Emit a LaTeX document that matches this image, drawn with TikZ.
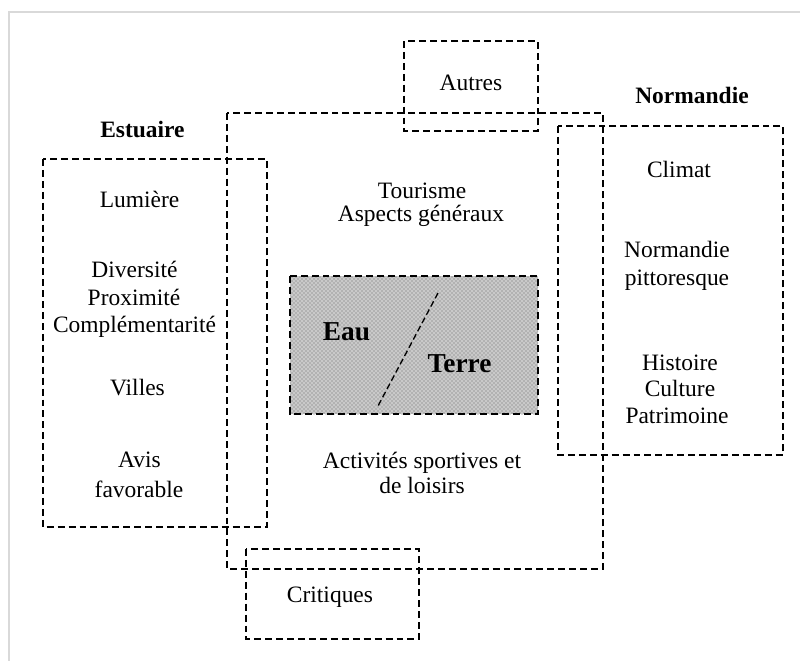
\documentclass[tikz,border=0pt]{standalone}
\usepackage{fontspec}
\setmainfont{Liberation Serif}
\usetikzlibrary{patterns}
\begin{document}
\begin{tikzpicture}[x=0.75pt,y=-0.75pt,
  txt/.style={anchor=base,inner sep=0pt,font=\fontsize{17.6}{21}\selectfont},
  btxt/.style={txt,font=\fontsize{17.6}{21}\selectfont\bfseries},
  bigtxt/.style={anchor=base,inner sep=0pt,font=\fontsize{20.5}{24}\selectfont\bfseries},
  dbox/.style={draw=black,line width=1.1pt,dash pattern=on 5.2pt off 3pt},
  frameline/.style={draw=gray!30,line width=1.2pt}]
\useasboundingbox (0,0) rectangle (800,661);
\fill[white] (0,0) rectangle (800,661);
% outer frame
\draw[frameline] (800,12) -- (9,12) -- (9,661);
% shaded central box
\fill[gray!42] (290,276) rectangle (538,414);
\fill[pattern=crosshatch dots,pattern color=black!60] (290,276) rectangle (538,414);
\draw[dbox,line width=1.4pt] (290,276) rectangle (538,414);
% boxes
\draw[dbox] (404,41) rectangle (538,131);
\draw[dbox] (227,113) rectangle (603,569);
\draw[dbox] (43,159) rectangle (267,527);
\draw[dbox] (558,126) rectangle (783,455);
\draw[dbox] (246,549) rectangle (419,639);
% diagonal
\coordinate (d1) at (438,293);
\coordinate (d2) at (378,406);
\draw[line width=1pt,dash pattern=on 4.5pt off 2.5pt] (d1) -- (d2);
% texts
\node[btxt] (est) at (142.5,137) {Estuaire};
\node[btxt] (norm) at (692,103) {Normandie};
\node[txt] (autres) at (471,90) {Autres};
\node[txt] (tour) at (422,198) {Tourisme};
\node[txt] (asp) at (421,221) {Aspects généraux};
\node[txt] (act) at (422,468) {Activités sportives et};
\node[txt] (lois) at (422,493) {de loisirs};
\node[txt] (crit) at (330,602) {Critiques};
\node[txt] (lum) at (139.5,207) {Lumière};
\node[txt] (div) at (134.5,277) {Diversité};
\node[txt] (prox) at (134,305) {Proximité};
\node[txt] (compl) at (134.5,332) {Complémentarité};
\node[txt] (villes) at (137.5,395) {Villes};
\node[txt] (avis) at (139.5,467) {Avis};
\node[txt] (fav) at (139,497) {favorable};
\node[txt] (clim) at (679,177) {Climat};
\node[txt] (nor2) at (677,257) {Normandie};
\node[txt] (pitt) at (677,285) {pittoresque};
\node[txt] (hist) at (680,370) {Histoire};
\node[txt] (cult) at (680,396) {Culture};
\node[txt] (patr) at (677,423) {Patrimoine};
\node[bigtxt] (eau) at (346.5,340) {Eau};
\node[bigtxt] (terre) at (459.5,372) {Terre};
\end{tikzpicture}
\end{document}
